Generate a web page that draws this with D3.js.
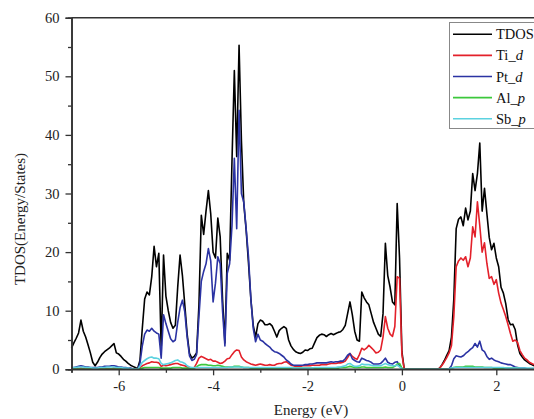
<!DOCTYPE html>
<html><head><meta charset="utf-8">
<script src="https://cdn.jsdelivr.net/npm/d3@7"></script>
<style>body{margin:0;background:#fff;}svg{display:block;}</style>
</head><body>
<svg id="c" width="534" height="419"></svg>
<script>
// Energy grid (eV), step 0.05 from -7.00 to 2.80
const energy = d3.range(0, 197).map(i => +(-7 + i * 0.05).toFixed(2));

const tdos = [
 3.6,4.5,5.3,6.2,8.4,6.5,5.5,4.2,2.8,1.2, 0.6,1.2,2.0,2.6,3.0,3.3,3.6,4.0,4.4,2.8,
 2.6,2.2,1.7,1.4,1.0,0.7,0.5,0.3,0.1,1.5, 7.0,12.0,13.2,12.7,15.8,21.0,17.5,19.8,3.5,19.5,
 12.5,10.0,8.0,7.0,7.5,14.0,19.5,16.0,11.0,6.0, 2.7,1.9,2.2,2.8,11.0,26.3,23.0,27.0,30.5,26.5,
 20.0,19.0,25.8,22.6,12.0,4.5,19.8,18.6,35.5,51.0, 36.3,55.3,39.0,28.3,23.8,18.1,12.0,7.5,5.5,7.8,
 8.4,8.2,7.6,7.6,7.8,7.4,6.5,5.5,6.6,7.0, 7.3,7.0,5.0,4.0,3.4,3.0,2.8,2.7,2.9,3.3,
 3.2,3.5,3.6,4.5,5.4,5.8,6.0,5.9,5.6,5.9, 6.1,5.9,6.1,6.3,6.4,6.8,7.5,9.5,11.5,9.3,
 6.5,5.0,4.8,13.2,12.2,11.5,11.0,9.5,8.0,7.0, 6.0,5.6,9.5,21.5,16.0,14.0,11.5,11.0,28.3,19.0,
 3.0,0,0,0,0,0,0,0,0,0, 0,0,0,0,0,0,0.2,0.8,1.5,2.4,
 3.2,5.5,12.0,24.0,25.6,26.0,24.5,27.5,25.5,27.0, 33.4,30.5,33.4,38.6,27.0,30.9,26.6,22.5,20.4,21.5,
 19.0,17.5,14.0,13.0,11.2,8.5,7.6,7.7,6.8,4.2, 2.7,2.1,1.6,1.3,1.0,0.8,0.6
];
const tiD = [
 0.1,0.1,0.1,0.1,0.2,0.1,0.1,0.1,0.1,0.1, 0.1,0.1,0.1,0.1,0.1,0.1,0.1,0.1,0.2,0.1,
 0.1,0.1,0.1,0.1,0.1,0.1,0.1,0.1,0.0,0.3, 0.6,0.8,1.0,1.1,1.3,1.2,1.2,1.1,0.5,0.7,
 0.6,0.7,0.8,0.9,1.0,1.0,0.8,0.7,0.6,0.4, 0.3,0.2,0.3,1.0,1.9,2.2,2.0,1.8,1.6,1.7,
 1.4,1.4,1.2,1.0,1.1,1.4,1.8,1.9,2.5,3.0, 3.3,3.2,2.1,1.6,1.3,1.1,0.9,0.8,0.7,0.8,
 0.9,0.8,0.7,0.7,0.8,0.7,0.7,0.9,1.0,1.0, 1.2,1.3,1.0,0.7,0.6,0.5,0.5,0.5,0.6,0.6,
 0.6,0.6,0.7,0.7,0.7,0.7,0.8,0.8,0.8,0.9, 1.0,1.0,1.0,1.1,1.1,1.2,1.4,2.0,2.7,2.2,
 1.9,1.7,2.5,3.6,3.3,3.6,4.1,3.7,3.3,2.8, 2.9,3.3,5.5,9.0,7.0,6.0,5.6,7.3,15.8,15.5,
 2.5,0,0,0,0,0,0,0,0,0, 0,0,0,0,0,0,0.2,0.7,1.3,2.0,
 2.8,4.0,9.0,17.5,18.5,19.0,18.6,19.2,17.5,19.0, 24.3,22.6,28.6,24.5,20.0,21.6,18.1,15.5,15.8,14.5,
 15.3,13.0,11.3,10.2,9.0,7.6,6.1,4.8,5.0,4.6, 3.2,2.5,1.9,1.6,1.2,1.0,0.8
];
const ptD = [
 0.2,0.3,0.4,0.5,0.6,0.5,0.4,0.4,0.3,0.3, 0.3,0.3,0.4,0.4,0.5,0.5,0.5,0.6,0.6,0.5,
 0.4,0.4,0.3,0.3,0.2,0.2,0.1,0.1,0.0,1.0, 4.0,6.0,6.7,6.5,7.0,6.5,6.2,6.0,1.9,9.3,
 7.8,6.5,5.2,4.7,5.0,8.0,10.5,11.8,9.8,5.5, 2.3,1.5,1.7,2.5,9.0,15.0,16.7,18.0,20.6,18.5,
 11.5,14.7,19.2,18.0,10.0,4.0,16.4,18.0,24.5,36.0, 24.0,44.2,30.0,28.5,24.0,19.2,12.0,7.0,4.7,6.0,
 5.0,4.8,4.4,4.1,3.8,3.3,3.0,2.9,2.7,2.4, 2.1,1.6,1.3,0.9,0.7,0.7,0.7,0.7,0.7,0.8,
 0.8,0.9,0.9,1.0,1.1,1.1,1.1,1.1,1.1,1.2, 1.3,1.2,1.3,1.3,1.4,1.4,1.8,2.4,2.7,1.8,
 1.5,1.3,1.2,1.9,1.7,1.5,1.4,1.2,0.9,0.9, 0.9,1.0,1.4,1.9,1.2,1.0,0.9,1.2,1.3,0.6,
 0.1,0,0,0,0,0,0,0,0,0, 0,0,0,0,0,0,0,0,0,0,
 0.1,0.6,1.8,2.3,2.2,2.1,2.3,2.7,3.0,3.4, 3.7,4.4,3.8,4.8,3.3,3.0,2.2,1.7,1.9,1.6,
 1.4,1.3,1.1,1.0,0.9,0.8,0.8,0.6,0.4,0.3, 0.2,0.2,0.2,0.1,0.1,0.1,0.1
];
const alP = [
 0.05,0.05,0.05,0.05,0.05,0.05,0.05,0.05,0.05,0.05, 0.05,0.05,0.05,0.05,0.05,0.05,0.05,0.05,0.05,0.05,
 0.05,0.05,0.05,0.05,0.05,0.05,0.05,0.05,0.05,0.1, 0.2,0.3,0.3,0.3,0.3,0.3,0.3,0.3,0.2,0.2,
 0.2,0.2,0.2,0.3,0.3,0.3,0.3,0.2,0.2,0.2, 0.1,0.1,0.2,0.4,0.7,0.8,0.8,0.8,0.7,0.7,
 0.6,0.6,0.7,0.6,0.5,0.4,0.4,0.4,0.4,0.5, 0.5,0.5,0.4,0.3,0.3,0.3,0.2,0.2,0.2,0.2,
 0.2,0.2,0.2,0.2,0.2,0.2,0.2,0.2,0.2,0.2, 0.2,0.2,0.2,0.2,0.2,0.2,0.2,0.2,0.2,0.2,
 0.2,0.2,0.2,0.2,0.2,0.2,0.2,0.2,0.2,0.2, 0.2,0.2,0.2,0.2,0.3,0.3,0.3,0.4,0.5,0.4,
 0.3,0.3,0.3,0.4,0.4,0.3,0.3,0.3,0.3,0.3, 0.3,0.3,0.3,0.4,0.3,0.3,0.3,0.5,0.9,1.0,
 0.2,0,0,0,0,0,0,0,0,0, 0,0,0,0,0,0,0,0,0,0,
 0.1,0.2,0.3,0.4,0.4,0.4,0.4,0.5,0.5,0.5, 0.5,0.4,0.4,0.4,0.4,0.3,0.3,0.3,0.3,0.2,
 0.2,0.2,0.2,0.2,0.2,0.2,0.2,0.2,0.2,0.2, 0.1,0.1,0.1,0.1,0.1,0.1,0.1
];
const sbP = [
 0.2,0.3,0.3,0.4,0.4,0.4,0.3,0.3,0.3,0.2, 0.2,0.2,0.3,0.3,0.3,0.4,0.4,0.4,0.4,0.3,
 0.3,0.3,0.2,0.2,0.2,0.1,0.1,0.1,0.0,0.5, 1.2,1.5,1.8,2.0,2.1,1.9,1.9,1.8,1.0,0.8,
 0.9,1.0,1.1,1.3,1.5,1.6,1.3,1.2,1.0,0.6, 0.4,0.3,0.3,0.3,0.3,0.3,0.3,0.3,0.3,0.3,
 0.3,0.3,0.3,0.3,0.3,0.3,0.3,0.4,0.4,0.4, 0.4,0.4,0.4,0.3,0.3,0.3,0.3,0.3,0.3,0.3,
 0.3,0.3,0.3,0.3,0.3,0.3,0.3,0.3,0.3,0.3, 0.3,0.3,0.3,0.3,0.2,0.2,0.2,0.2,0.2,0.2,
 0.2,0.2,0.2,0.3,0.3,0.3,0.3,0.3,0.3,0.3, 0.3,0.3,0.3,0.4,0.4,0.5,0.6,0.9,1.0,0.7,
 0.5,0.5,0.6,0.9,0.8,0.8,0.8,0.7,0.6,0.6, 0.6,0.6,0.8,1.0,0.8,0.7,0.6,0.6,0.7,0.4,
 0.1,0,0,0,0,0,0,0,0,0, 0,0,0,0,0,0,0,0,0,0,
 0.1,0.2,0.3,0.3,0.3,0.3,0.3,0.3,0.3,0.3, 0.3,0.3,0.3,0.3,0.3,0.3,0.3,0.3,0.3,0.3,
 0.3,0.3,0.3,0.3,0.2,0.2,0.2,0.2,0.2,0.2, 0.2,0.2,0.2,0.2,0.2,0.2,0.2
];

const seriesNames = ["TDOS", "Ti_d", "Pt_d", "Al_p", "Sb_p"];
const seriesColors = ["#000000", "#e3202a", "#2b33a3", "#3cc83c", "#5cd2e0"];
const seriesValues = [tdos, tiD, ptD, alP, sbP];
const xMajorTicks = [-6, -4, -2, 0, 2];
const xMinorTicks = [-7, -5, -3, -1, 1, 3];
const yMajorTicks = [0, 10, 20, 30, 40, 50, 60];
const yMinorTicks = [5, 15, 25, 35, 45, 55];

const svg = d3.select("#c");
const FONT = "'Liberation Serif','Times New Roman',serif";
const x = d3.scaleLinear().domain([-7, 3]).range([71.5, 543.5]);
const y = d3.scaleLinear().domain([0, 60]).range([369.3, 17.7]);

// lines
const line = d3.line().x(d => x(d[0])).y(d => y(d[1]));
seriesValues.forEach((vals, k) => {
  svg.append("path")
    .datum(energy.map((e, i) => [e, vals[i]]))
    .attr("fill", "none")
    .attr("stroke", seriesColors[k])
    .attr("stroke-width", 1.6)
    .attr("stroke-linejoin", "round")
    .attr("d", line);
});

// axes
const axisColor = "#333";
function styleAxis(g) {
  g.selectAll("path.domain").attr("stroke", axisColor).attr("stroke-width", 1.6);
  g.selectAll(".tick line").attr("stroke", axisColor).attr("stroke-width", 1.3);
  g.selectAll("text").attr("font-family", FONT).attr("font-size", 14.5).attr("fill", "#222");
}
const gx = svg.append("g").attr("transform", `translate(0,${y(0)})`)
  .call(d3.axisBottom(x).tickValues(xMajorTicks).tickSize(6).tickPadding(5).tickFormat(d => d));
styleAxis(gx);
const gxm = svg.append("g").attr("transform", `translate(0,${y(0)})`)
  .call(d3.axisBottom(x).tickValues(xMinorTicks).tickSize(3.5).tickFormat(""));
styleAxis(gxm);
const gy = svg.append("g").attr("transform", `translate(${x(-7)},0)`)
  .call(d3.axisLeft(y).tickValues(yMajorTicks).tickSize(6).tickPadding(6));
styleAxis(gy);
const gym = svg.append("g").attr("transform", `translate(${x(-7)},0)`)
  .call(d3.axisLeft(y).tickValues(yMinorTicks).tickSize(3.5).tickFormat(""));
styleAxis(gym);
gx.select("path.domain").attr("d", `M${x(-7)},0H${x(3)}`);
// top frame
svg.append("line").attr("x1", x(-7)).attr("x2", x(3)).attr("y1", y(60)).attr("y2", y(60))
  .attr("stroke", axisColor).attr("stroke-width", 1.6);

// axis titles
svg.append("text").attr("x", 311).attr("y", 415).attr("text-anchor", "middle")
  .attr("font-family", FONT).attr("font-size", 15).attr("fill", "#222").text("Energy (eV)");
svg.append("text").attr("transform", "translate(25,219) rotate(-90)").attr("text-anchor", "middle")
  .attr("font-family", FONT).attr("font-size", 15).attr("fill", "#222").text("TDOS(Energy/States)");

// legend
const lg = svg.append("g");
lg.append("rect").attr("x", 449.5).attr("y", 22.5).attr("width", 100).attr("height", 106)
  .attr("fill", "#fff").attr("stroke", "#888").attr("stroke-width", 1);
seriesNames.forEach((name, i) => {
  const yy = 34.3 + i * 21.1;
  lg.append("line").attr("x1", 453).attr("x2", 492).attr("y1", yy).attr("y2", yy)
    .attr("stroke", seriesColors[i]).attr("stroke-width", 1.6);
  const t = lg.append("text").attr("x", 496).attr("y", yy + 5)
    .attr("font-family", FONT).attr("font-size", 14.5).attr("fill", "#111");
  const parts = name.split("_");
  if (parts.length === 2) {
    t.append("tspan").text(parts[0] + "_");
    t.append("tspan").attr("font-style", "italic").text(parts[1]);
  } else {
    t.text(name);
  }
});
</script>
</body></html>
